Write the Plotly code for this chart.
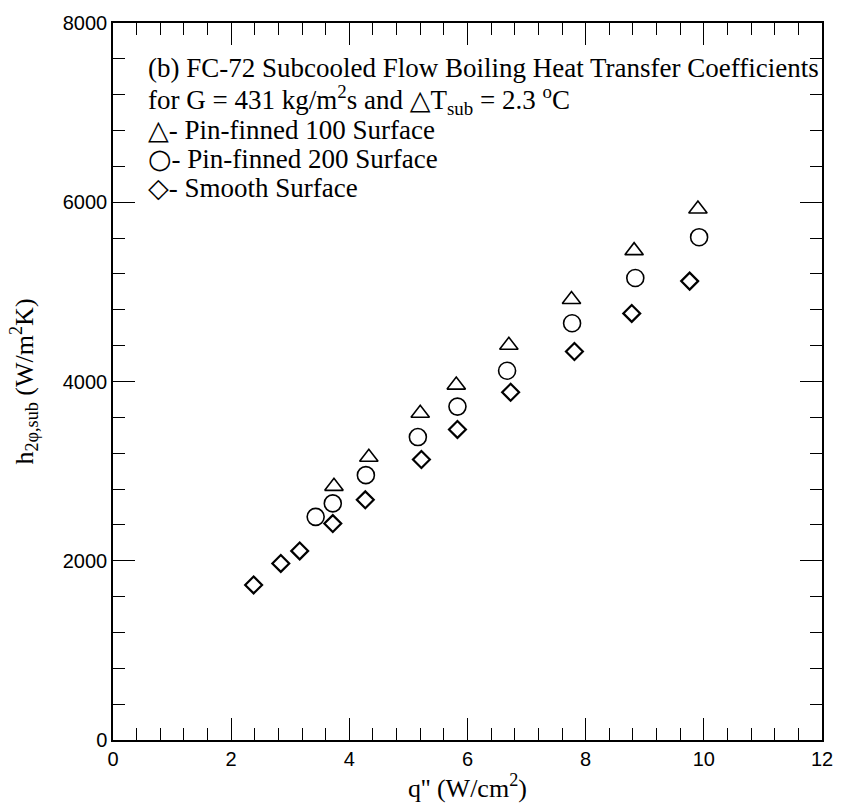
import plotly.graph_objects as go

# Heat flux q'' (W/cm^2) and subcooled flow boiling heat transfer coefficient (W/m^2K)
q_pin100 = [3.74, 4.33, 5.20, 5.81, 6.70, 7.76, 8.82, 9.90]
h_pin100 = [2830, 3155, 3645, 3960, 4405, 4915, 5460, 5925]

q_pin200 = [3.43, 3.72, 4.28, 5.16, 5.83, 6.67, 7.77, 8.84, 9.92]
h_pin200 = [2490, 2640, 2955, 3380, 3720, 4120, 4650, 5155, 5610]

q_smooth = [2.38, 2.84, 3.16, 3.72, 4.27, 5.22, 5.83, 6.73, 7.81, 8.78, 9.76]
h_smooth = [1730, 1970, 2110, 2415, 2680, 3130, 3465, 3880, 4335, 4760, 5120]

x_ticks = [0, 2, 4, 6, 8, 10, 12]
y_ticks = [0, 2000, 4000, 6000, 8000]

serif = "Liberation Serif"
sans = "Liberation Sans"


def sym(ch):
    return '<span style="font-family:DejaVu Sans">%s</span>' % ch


def txt(s):
    return '<span style="font-family:Liberation Serif">%s</span>' % s


legend_lines = [
    txt("(b) FC-72 Subcooled Flow Boiling Heat Transfer Coefficients"),
    txt("for G = 431 kg/m<sup>2</sup>s and ") + sym("\u25b3")
    + txt("T<sub>sub</sub> = 2.3 <sup>o</sup>C"),
    sym("\u25b3") + txt("- Pin-finned 100 Surface"),
    sym("\u25cb") + txt("- Pin-finned 200 Surface"),
    sym("\u25c7") + txt("- Smooth Surface"),
]

fig = go.Figure()
fig.add_trace(go.Scatter(
    x=q_pin100, y=h_pin100, mode="markers", name="Pin-finned 100",
    marker=dict(symbol="triangle-up-open", size=16, color="black",
                line=dict(width=1.6, color="black")),
))
fig.add_trace(go.Scatter(
    x=q_pin200, y=h_pin200, mode="markers", name="Pin-finned 200",
    marker=dict(symbol="circle-open", size=17, color="black",
                line=dict(width=1.6, color="black")),
))
fig.add_trace(go.Scatter(
    x=q_smooth, y=h_smooth, mode="markers", name="Smooth",
    marker=dict(symbol="diamond-open", size=13, color="black",
                line=dict(width=2.2, color="black")),
))

line_y = [64, 96, 126, 155, 184]
for s, py in zip(legend_lines, line_y):
    fig.add_annotation(
        text=s, xref="paper", yref="paper",
        x=(147 - 113) / 720, y=1 - (py - 19) / 721,
        xanchor="left", yanchor="middle", showarrow=False,
        font=dict(family=serif, size=27, color="black"),
    )

axis_common = dict(
    showline=True, linecolor="black", linewidth=1.5, mirror="allticks",
    ticks="inside", ticklen=22, tickwidth=1, tickcolor="black",
    showgrid=False, zeroline=False,
    tickfont=dict(family=sans, size=20, color="black"),
)

fig.update_xaxes(
    range=[0, 12], tickvals=x_ticks, ticktext=[str(v) for v in x_ticks],
    minor=dict(dtick=0.4, ticks="inside", ticklen=12, tickwidth=1, tickcolor="black"),
    title=dict(text="q'' (W/cm<sup>2</sup>)", font=dict(family=serif, size=26, color="black"),
               standoff=2),
    **axis_common,
)
fig.update_yaxes(
    range=[0, 8000], tickvals=y_ticks, ticktext=[str(v) for v in y_ticks],
    minor=dict(dtick=400, ticks="inside", ticklen=12, tickwidth=1, tickcolor="black"),
    title=dict(text="h<sub>2\u03c6,sub</sub> (W/m<sup>2</sup>K)",
               font=dict(family=serif, size=26, color="black"), standoff=22),
    **axis_common,
)

fig.update_layout(
    width=845, height=805,
    margin=dict(l=113, r=12, t=19, b=65),
    paper_bgcolor="white", plot_bgcolor="white",
    showlegend=False,
)

fig.write_html("out.html")
